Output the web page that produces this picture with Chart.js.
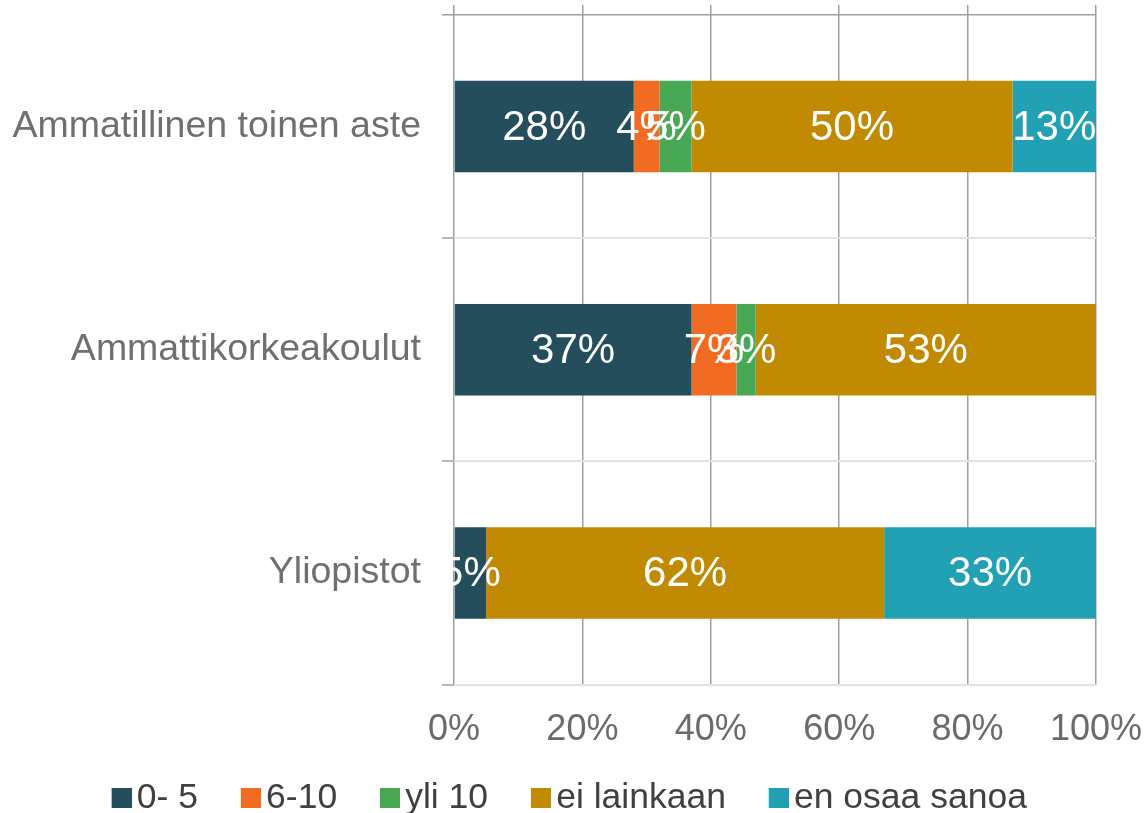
<!DOCTYPE html>
<html>
<head>
<meta charset="utf-8">
<script src="https://cdn.jsdelivr.net/npm/chart.js@4"></script>
<style>
  html, body { margin: 0; padding: 0; background: #fff; }
  #wrap { width: 1145px; height: 813px; }
</style>
</head>
<body>
<div id="wrap"><canvas id="chart" width="1145" height="813"></canvas></div>
<script>
const categories = ["Ammatillinen toinen aste", "Ammattikorkeakoulut", "Yliopistot"];
const seriesNames = ["0- 5", "6-10", "yli 10", "ei lainkaan", "en osaa sanoa"];
const vals0to5 = [28, 37, 5];
const vals6to10 = [4, 7, 0];
const valsOver10 = [5, 3, 0];
const valsNone = [50, 53, 62];
const valsDontKnow = [13, 0, 33];
const xTickValues = [0, 20, 40, 60, 80, 100];

const colors = ["#244E5B", "#F26B22", "#48A853", "#C08A03", "#22A0B4"];
const seriesValues = [vals0to5, vals6to10, valsOver10, valsNone, valsDontKnow];
const FONT = "'Liberation Sans', Arial, sans-serif";

// legend swatch: square pushed to the right edge so it sits close to the text
function swatch(color) {
  const c = document.createElement("canvas");
  c.width = 26; c.height = 20;
  const g = c.getContext("2d");
  g.fillStyle = color;
  g.fillRect(6, 0, 20, 20);
  return c;
}

const barLabels = {
  id: "barLabels",
  afterDatasetsDraw(chart) {
    const ctx = chart.ctx;
    ctx.save();
    ctx.font = "42px " + FONT;
    ctx.fillStyle = "#fff";
    ctx.textAlign = "center";
    ctx.textBaseline = "middle";
    chart.data.datasets.forEach((ds, i) => {
      chart.getDatasetMeta(i).data.forEach((el, j) => {
        const v = ds.data[j];
        if (!v) return;
        const p = el.getProps(["x", "y", "base"], true);
        ctx.fillText(v + "%", (p.x + p.base) / 2, p.y + 2);
      });
    });
    ctx.restore();
  },
};

const zeroPad = (s) => { s.paddingLeft = 0; s.paddingRight = 0; s.paddingTop = 0; s.paddingBottom = 0; };

new Chart(document.getElementById("chart"), {
  type: "bar",
  data: {
    labels: categories,
    datasets: seriesNames.map((name, i) => ({
      label: name,
      data: seriesValues[i],
      backgroundColor: colors[i],
      borderWidth: 0,
      barPercentage: 0.41,
      categoryPercentage: 1,
      xAxisID: "x",
    })),
  },
  options: {
    indexAxis: "y",
    responsive: false,
    animation: false,
    layout: { padding: { left: 10, right: 10, top: 5, bottom: -13 } },
    plugins: {
      tooltip: { enabled: false },
      legend: {
        position: "bottom",
        labels: {
          usePointStyle: true,
          pointStyleWidth: 1,
          padding: 0,
          color: "#404040",
          font: { family: FONT, size: 35.5 },
          generateLabels: (chart) =>
            chart.data.datasets.map((ds, i) => ({
              text: ds.label + (i < seriesNames.length - 1 ? "     " : ""),
              fillStyle: colors[i],
              strokeStyle: colors[i],
              lineWidth: 0,
              pointStyle: swatch(colors[i]),
              hidden: false,
              datasetIndex: i,
              fontColor: "#404040",
            })),
        },
      },
    },
    scales: {
      x: {
        stacked: true,
        min: 0,
        max: 100,
        afterBuildTicks: (s) => { s.ticks = xTickValues.map((v) => ({ value: v })); },
        afterFit: (s) => { s.height = 96; zeroPad(s); s.paddingRight = 49; },
        ticks: {
          callback: (v) => v + "%",
          color: "#6b6b6b",
          padding: 24,
          font: { family: FONT, size: 36 },
          maxRotation: 0,
        },
        grid: { color: "#a0a0a0", lineWidth: 1.5, drawTicks: false },
        border: { display: false },
      },
      x2: {
        position: "top",
        min: 0,
        max: 100,
        afterBuildTicks: (s) => { s.ticks = xTickValues.map((v) => ({ value: v })); },
        afterFit: (s) => { s.height = 10; zeroPad(s); },
        ticks: { display: false },
        grid: { color: "#a0a0a0", lineWidth: 1.5, drawOnChartArea: false, tickLength: 10 },
        border: { display: false },
      },
      y: {
        stacked: true,
        afterFit: (s) => { s.width = 444; zeroPad(s); },
        ticks: {
          color: "#6f6f6f",
          padding: 21,
          font: { family: FONT, size: 37.5 },
        },
        grid: {
          offset: true,
          tickLength: 12,
          tickColor: "#a0a0a0",
          tickWidth: 1.5,
          color: (c) => (c.index === 0 ? "#a0a0a0" : "#e2e2e2"),
          lineWidth: (c) => (c.index === 0 ? 1.5 : 2),
        },
        border: { display: false },
      },
    },
  },
  plugins: [barLabels],
});
</script>
</body>
</html>
